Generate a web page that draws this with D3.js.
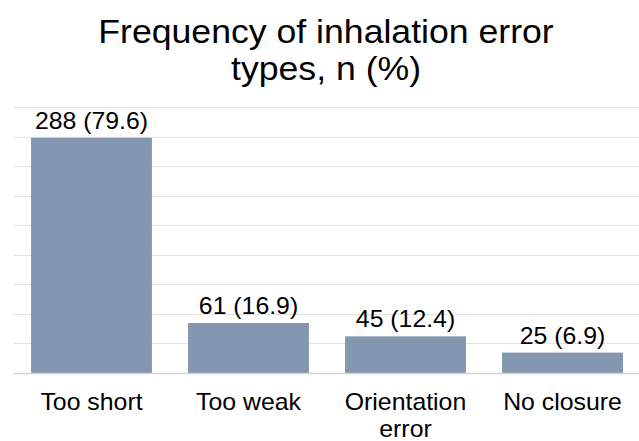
<!DOCTYPE html>
<html>
<head>
<meta charset="utf-8">
<script src="https://cdn.jsdelivr.net/npm/d3@7"></script>
<style>
  body { margin: 0; background: #fff; }
  text { font-family: "Liberation Sans", Arial, sans-serif; fill: #000; }
</style>
</head>
<body>
<div id="chart"></div>
<script>
const categories = ["Too short", "Too weak", "Orientation error", "No closure"];
const counts = [288, 61, 45, 25];
const percents = [79.6, 16.9, 12.4, 6.9];
const yTicks = [0, 10, 20, 30, 40, 50, 60, 70, 80, 90];
const titleLines = ["Frequency of inhalation error", "types, n (%)"];

const width = 639;
const height = 441;
const margin = { top: 107, right: -2, bottom: 68, left: 13 };
const stretch = 1.08; // reference glyphs are a little wider than Liberation Sans

const data = categories.map((c, i) => ({ cat: c, n: counts[i], pct: percents[i] }));

const svg = d3.select("#chart")
              .append("svg")
              .attr("width", width)
              .attr("height", height)

// helper: centred, slightly stretched text
const stretchedText = (g, x, y, size, str) =>
  g.append("text")
   .attr("transform", `translate(${x},${y}) scale(${stretch},1)`)
   .attr("text-anchor", "middle")
   .style("font-size", `${size}px`)
   .text(str)

titleLines.forEach((t, i) => stretchedText(svg, 326, 43 + i * 37, 33, t))

const x = d3.scaleBand()
            .domain(categories)
            .range([margin.left, width - margin.right])
            .paddingInner(0.23)
            .paddingOuter(0.115)

const y = d3.scaleLinear()
            .domain([0, 90])
            .range([height - margin.bottom, margin.top])

// gridlines
svg.append("g")
   .selectAll("line")
   .data(yTicks.slice(1))
   .enter()
   .append("line")
   .attr("x1", margin.left)
   .attr("x2", width)
   .attr("y1", d => Math.round(y(d)) + 0.5)
   .attr("y2", d => Math.round(y(d)) + 0.5)
   .attr("stroke", "#e3e3e3")
   .attr("stroke-width", 1)

svg.append("g")
   .selectAll("rect")
   .data(data)
   .enter()
   .append("rect")
   .attr("x", d => x(d.cat))
   .attr("width", x.bandwidth())
   .attr("y", d => y(d.pct))
   .attr("height", d => y(0) - y(d.pct))
   .attr("fill", "#8497b0")

// baseline
svg.append("line")
   .attr("x1", margin.left)
   .attr("x2", width)
   .attr("y1", Math.round(y(0)) + 0.5)
   .attr("y2", Math.round(y(0)) + 0.5)
   .attr("stroke", "#d4d4d4")
   .attr("stroke-width", 1.5)

const valueG = svg.append("g")
data.forEach(d =>
  stretchedText(valueG, x(d.cat) + x.bandwidth() / 2, y(d.pct) - 9, 23, `${d.n} (${d.pct})`))

const labelG = svg.append("g")
data.forEach(d => {
  const words = d.cat === "Orientation error" ? ["Orientation", "error"] : [d.cat];
  words.forEach((w, i) =>
    stretchedText(labelG, x(d.cat) + x.bandwidth() / 2, 410 + i * 27, 23, w))
})
</script>
</body>
</html>
